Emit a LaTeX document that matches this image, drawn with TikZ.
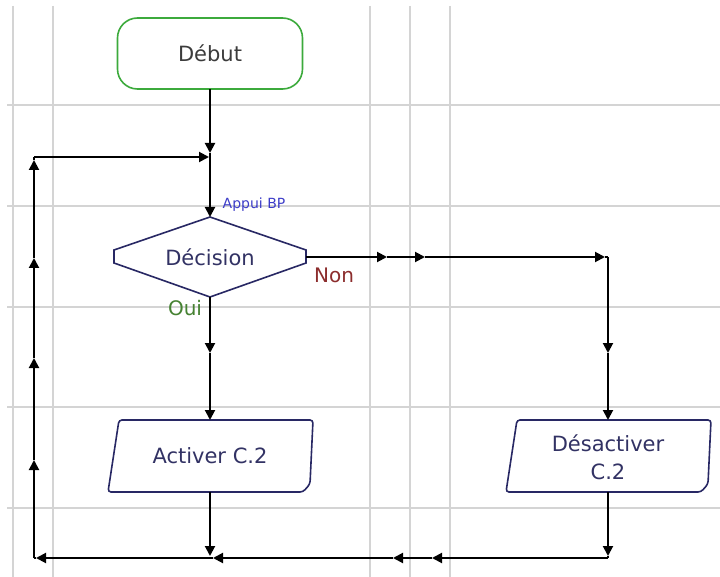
\documentclass[tikz,border=0pt]{standalone}
\usepackage{fontspec}
\setmainfont{DejaVu Sans}
\usetikzlibrary{arrows.meta,calc}
\definecolor{gridc}{RGB}{212,212,212}
\definecolor{debgreen}{RGB}{60,170,60}
\definecolor{debtext}{RGB}{60,60,60}
\definecolor{navy}{RGB}{40,40,100}
\definecolor{navytext}{RGB}{50,50,100}
\definecolor{bluelab}{RGB}{60,60,200}
\definecolor{nonred}{RGB}{140,45,45}
\definecolor{ouigreen}{RGB}{70,130,50}
\newcommand\ioOutline[1]{%
  \draw[iobox] ($(#1)+(-91,-36)$) -- ($(#1)+(103,-36)$) -- ($(#1)+(100,28)$)
    -- ($(#1)+(93,36)$) -- ($(#1)+(-102,36)$) -- cycle;}
\begin{document}
\begin{tikzpicture}[x=1pt,y=-1pt,
  gridline/.style={gridc,line width=1.4pt},
  conn/.style={line width=2pt,black},
  arr/.style={conn,-{Triangle[length=10pt,width=10pt]}},
  bigtext/.style={font=\fontsize{21}{27}\selectfont},
  iobox/.style={navy,line width=1.6pt,rounded corners=3pt},
  decbox/.style={navy,line width=1.6pt},
  plain/.style={inner sep=0pt,outer sep=0pt}]
\useasboundingbox[fill=white] (0,0) rectangle (720,577);
% grid
\foreach \gx in {13,53,370,410,450}{\draw[gridline] (\gx,6) -- (\gx,577);}
\foreach \gy in {105,206,307,407,508}{\draw[gridline] (7,\gy) -- (720,\gy);}
% nodes
\node[plain,bigtext,text=debtext,draw=debgreen,line width=1.6pt,rounded corners=20pt,
  minimum width=185pt,minimum height=71pt] (debut) at (210,53.5) {Début};
\node[plain,bigtext,text=navytext,minimum width=192pt,minimum height=80pt] (dec) at (210,257) {Décision};
\draw[decbox] ($(dec.west)+(0,-7)$) -- (dec.north) -- ($(dec.east)+(0,-7)$)
  -- ($(dec.east)+(0,6)$) -- (dec.south) -- ($(dec.west)+(0,6)$) -- cycle;
\node[plain,bigtext,text=navytext,minimum width=205pt,minimum height=72pt] (act) at (210,456) {Activer C.2};
\ioOutline{act}
\node[plain,bigtext,text=navytext,align=center,minimum width=205pt,minimum height=72pt] (desact) at (608,457) {Désactiver\\[1pt]C.2};
\ioOutline{608,456}
% labels
\node[plain,font=\fontsize{14}{16}\selectfont,text=bluelab] (appui) at (254,205) {Appui BP};
\node[plain,font=\fontsize{20}{24}\selectfont,text=nonred] (non) at (334,275) {Non};
\node[plain,font=\fontsize{20}{24}\selectfont,text=ouigreen] (oui) at (185,308) {Oui};
% coordinates
\coordinate (t1) at (210,153);
\coordinate (j1) at (209,157);
\coordinate (tl) at (34,157);
\coordinate (bl) at (34,558);
\coordinate (u1) at (34,460);
\coordinate (u2) at (34,358);
\coordinate (u3) at (34,258);
\coordinate (u4) at (34,160);
\coordinate (m1) at (210,353);
\coordinate (ad) at (210,556);
\coordinate (r2) at (387,257);
\coordinate (r3) at (425,257);
\coordinate (r4) at (605,257);
\coordinate (tr) at (608,257);
\coordinate (d1) at (608,353);
\coordinate (d2) at (608,556);
\coordinate (br) at (608,558);
\coordinate (l1) at (432,558);
\coordinate (l2) at (393,558);
\coordinate (l3) at (213,558);
\coordinate (l4) at (36,558);
% connectors
\draw[arr] (debut.south) -- (t1);
\draw[arr] (t1) -- (dec.north);
\draw[arr] (dec.south) -- (m1);
\draw[arr] (m1) -- (act.north);
\draw[arr] (act.south) -- (ad);
\draw[arr] (dec.east) -- (r2);
\draw[arr] (r2) -- (r3);
\draw[arr] (r3) -- (r4);
\draw[conn] (r4) -- (tr);
\draw[arr] (tr) -- (d1);
\draw[arr] (d1) -- ($(desact.north)+(0,-1)$);
\draw[arr] ($(desact.south)+(0,-1)$) -- (d2);
\draw[conn] (d2) -- (br);
\draw[arr] (br) -- (l1);
\draw[arr] (l1) -- (l2);
\draw[arr] (l2) -- (l3);
\draw[arr] (l3) -- (l4);
\draw[conn] (l4) -- (bl);
\draw[arr] (bl) -- (u1);
\draw[arr] (u1) -- (u2);
\draw[arr] (u2) -- (u3);
\draw[arr] (u3) -- (u4);
\draw[conn] (u4) -- (tl);
\draw[arr] (tl) -- (j1);
\end{tikzpicture}
\end{document}
